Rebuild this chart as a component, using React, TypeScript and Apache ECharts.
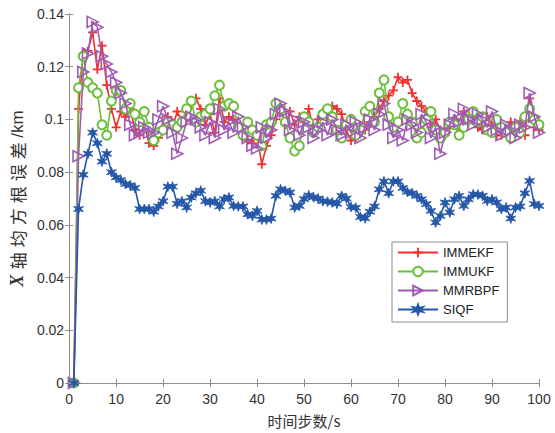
import React, { useEffect, useRef } from "react";
import * as echarts from "echarts";

const seriesNames = ["IMMEKF", "IMMUKF", "MMRBPF", "SIQF"];
const xTicks = [0, 10, 20, 30, 40, 50, 60, 70, 80, 90, 100];
const yTicks = [0, 0.02, 0.04, 0.06, 0.08, 0.1, 0.12, 0.14];
const yTitleChars = ["轴", "均", "方", "根", "误", "差"];
const yTitleUnit = "/km";
const xTitle = "时间步数/s";

const immekf = [
  0, 0.104, 0.125, 0.126, 0.133, 0.119, 0.128, 0.113, 0.104, 0.097,
  0.103, 0.101, 0.104, 0.096, 0.094, 0.098, 0.091, 0.09, 0.093, 0.097,
  0.101, 0.097, 0.103, 0.099, 0.103, 0.106, 0.108, 0.104, 0.098, 0.102,
  0.095, 0.108, 0.099, 0.101, 0.1, 0.096, 0.094, 0.092, 0.091, 0.094,
  0.083, 0.09, 0.094, 0.1, 0.105, 0.098, 0.103, 0.098, 0.101, 0.099,
  0.104, 0.096, 0.1, 0.103, 0.101, 0.105, 0.104, 0.102, 0.096, 0.092,
  0.093, 0.097, 0.096, 0.099, 0.101, 0.104, 0.107, 0.109, 0.111, 0.116,
  0.114, 0.115, 0.11, 0.107, 0.105, 0.103, 0.097, 0.1, 0.096, 0.094,
  0.097, 0.1, 0.095, 0.103, 0.099, 0.101, 0.097, 0.096, 0.101, 0.098,
  0.094, 0.094, 0.096, 0.099, 0.096, 0.099, 0.094, 0.108, 0.097, 0.096,
];

const immukf = [
  0, 0.112, 0.124, 0.114, 0.112, 0.11, 0.098, 0.094, 0.107, 0.111,
  0.111, 0.104, 0.106, 0.102, 0.099, 0.103, 0.097, 0.092, 0.095, 0.096,
  0.099, 0.098, 0.097, 0.099, 0.104, 0.107, 0.099, 0.101, 0.102, 0.104,
  0.109, 0.113, 0.105, 0.106, 0.105, 0.097, 0.094, 0.099, 0.096, 0.094,
  0.09, 0.098, 0.099, 0.106, 0.104, 0.099, 0.093, 0.088, 0.09, 0.101,
  0.099, 0.095, 0.097, 0.102, 0.104, 0.101, 0.096, 0.093, 0.098, 0.1,
  0.094, 0.096, 0.103, 0.105, 0.099, 0.11, 0.115, 0.101, 0.097, 0.099,
  0.106, 0.102, 0.099, 0.093, 0.095, 0.1, 0.103, 0.096, 0.093, 0.095,
  0.099, 0.098, 0.094, 0.097, 0.1, 0.103, 0.099, 0.101, 0.096, 0.095,
  0.1, 0.097, 0.095, 0.093, 0.097, 0.095, 0.101, 0.104, 0.1, 0.098,
];

const mmrbpf = [
  0, 0.086, 0.118, 0.125, 0.137, 0.135, 0.124, 0.121, 0.118, 0.114,
  0.11, 0.106, 0.098, 0.094, 0.095, 0.097, 0.095, 0.095, 0.1, 0.105,
  0.1, 0.095, 0.087, 0.093, 0.099, 0.101, 0.1, 0.097, 0.094, 0.099,
  0.093, 0.104, 0.096, 0.099, 0.095, 0.101, 0.097, 0.093, 0.09, 0.089,
  0.097, 0.093, 0.096, 0.102, 0.106, 0.103, 0.096, 0.1, 0.094, 0.099,
  0.097, 0.093, 0.096, 0.099, 0.094, 0.1, 0.096, 0.094, 0.098, 0.095,
  0.099, 0.093, 0.097, 0.1, 0.096, 0.102, 0.106, 0.098, 0.093, 0.096,
  0.092, 0.1, 0.098, 0.095, 0.102, 0.099, 0.093, 0.097, 0.087, 0.095,
  0.098, 0.102, 0.099, 0.104, 0.1, 0.098, 0.102, 0.1, 0.097, 0.103,
  0.096, 0.094, 0.098, 0.096, 0.093, 0.098, 0.097, 0.11, 0.101, 0.095,
];

const siqf = [
  0, 0.066, 0.079, 0.087, 0.095, 0.091, 0.084, 0.087, 0.08, 0.078,
  0.077, 0.0755, 0.075, 0.074, 0.066, 0.066, 0.066, 0.065, 0.067, 0.069,
  0.0745, 0.0745, 0.068, 0.069, 0.0666, 0.0704, 0.072, 0.073, 0.069, 0.0685,
  0.069, 0.067, 0.0698, 0.0704, 0.0672, 0.067, 0.067, 0.064, 0.0634, 0.0653,
  0.062, 0.062, 0.0624, 0.071, 0.0735, 0.0729, 0.0723, 0.0666, 0.0672, 0.0698,
  0.0712, 0.0705, 0.07, 0.069, 0.0688, 0.0685, 0.068, 0.071, 0.07, 0.0668,
  0.0665, 0.063, 0.0625, 0.065, 0.067, 0.0735, 0.0765, 0.072, 0.0765, 0.0765,
  0.074, 0.0725, 0.072, 0.071, 0.0697, 0.0679, 0.0653, 0.0609, 0.0634, 0.0685,
  0.0647, 0.0697, 0.071, 0.0672, 0.0697, 0.0716, 0.0715, 0.071, 0.0691, 0.0697,
  0.0685, 0.066, 0.0666, 0.0624, 0.0666, 0.067, 0.072, 0.0767, 0.0679, 0.0672,
];

const colors = ["#f03030", "#6cbf3c", "#a05cb4", "#2457a8"];

const toPairs = (arr: number[]) => arr.map((v, i) => [i + 1, v]);

export default function App() {
  const ref = useRef<HTMLDivElement>(null);
  useEffect(() => {
    if (!ref.current) return;
    const chart = echarts.init(ref.current, undefined, { renderer: "svg" });
    const font = "'Liberation Sans', Arial, sans-serif";
    const cjk = "'Noto Sans CJK SC', sans-serif";
    const axisLine = { show: true, lineStyle: { color: "#8c8c8c", width: 1 } };
    const tick = { show: true, inside: true, length: 4, lineStyle: { color: "#8c8c8c" } };
    const plus = "path://M4,0H6V4H10V6H6V10H4V6H0V4H4Z";
    const tri = "path://M0,0L10,5L0,10Z";
    const star =
      "path://M5,0L6,3.3L9.3,2.5L7,5L9.3,7.5L6,6.7L5,10L4,6.7L0.7,7.5L3,5L0.7,2.5L4,3.3Z";
    const datasets = [immekf, immukf, mmrbpf, siqf];
    const symbols = [plus, "emptyCircle", tri, star];
    const sizes = [9, 9, 11, 10];
    const yName =
      "{x|X}" + yTitleChars.map((c) => "{c|" + c + "}").join("") + "{u|" + yTitleUnit + "}";
    chart.setOption({
      animation: false,
      backgroundColor: "#fff",
      grid: { left: 68, right: 16, top: 14, bottom: 49, containLabel: false },
      legend: {
        orient: "vertical",
        left: 392,
        top: 242,
        itemWidth: 40,
        itemHeight: 12,
        itemGap: 6,
        padding: [4, 8, 6, 5],
        borderColor: "#8c8c8c",
        borderWidth: 1,
        backgroundColor: "#fff",
        borderRadius: 0,
        textStyle: { fontFamily: font, fontSize: 13, color: "#222" },
        data: seriesNames,
      },
      xAxis: [
        {
          type: "value",
          min: 0,
          max: 100,
          interval: 10,
          axisLine,
          axisTick: tick,
          splitLine: { show: false },
          axisLabel: {
            fontFamily: font,
            fontSize: 14,
            color: "#333",
            margin: 9,
            customValues: xTicks,
          },
          name: xTitle,
          nameLocation: "middle",
          nameGap: 30,
          nameTextStyle: { fontFamily: cjk, fontSize: 15, color: "#333" },
        },
        {
          type: "value",
          position: "top",
          min: 0,
          max: 100,
          interval: 10,
          axisLine,
          axisTick: tick,
          axisLabel: { show: false },
          splitLine: { show: false },
        },
      ],
      yAxis: [
        {
          type: "value",
          min: 0,
          max: 0.14,
          interval: 0.02,
          axisLine,
          axisTick: tick,
          splitLine: { show: false },
          axisLabel: {
            fontFamily: font,
            fontSize: 14,
            color: "#333",
            margin: 5,
            formatter: (v: number) => {
              const f = yTicks.find((t) => Math.abs(t - v) < 1e-9);
              return String(+(f ?? v).toFixed(2));
            },
          },
          name: yName,
          nameLocation: "middle",
          nameGap: 35,
          nameRotate: 90,
          nameTextStyle: {
            rich: {
              x: {
                fontFamily: "'Liberation Serif', 'DejaVu Serif', serif",
                fontStyle: "italic",
                fontWeight: "bold",
                fontSize: 18,
                color: "#333",
                padding: [0, 3, 0, 0],
              },
              c: {
                fontFamily: cjk,
                fontSize: 17,
                color: "#333",
                padding: [0, 2.5, 0, 2.5],
              },
              u: {
                fontFamily: font,
                fontSize: 17,
                color: "#333",
                padding: [0, 0, 0, 2],
              },
            },
          },
        },
        {
          type: "value",
          position: "right",
          min: 0,
          max: 0.14,
          interval: 0.02,
          axisLine,
          axisTick: tick,
          axisLabel: { show: false },
          splitLine: { show: false },
        },
      ],
      series: datasets.map((d, i) => ({
        name: seriesNames[i],
        type: "line",
        data: toPairs(d),
        symbol: symbols[i],
        symbolSize: sizes[i],
        showSymbol: true,
        lineStyle: { color: colors[i], width: 1.6 },
        itemStyle:
          i === 0
            ? { color: colors[i] }
            : i === 1
            ? { color: colors[i], borderColor: colors[i], borderWidth: 1.6 }
            : i === 2
            ? { color: "rgba(255,255,255,0)", borderColor: colors[i], borderWidth: 1.6 }
            : { color: colors[i], borderColor: colors[i], borderWidth: 0.8 },
        z: 2 + i,
      })),
    });
    return () => chart.dispose();
  }, []);
  return (
    <div
      ref={ref}
      style={{ position: "fixed", left: 0, top: 0, width: 555, height: 433 }}
    />
  );
}
